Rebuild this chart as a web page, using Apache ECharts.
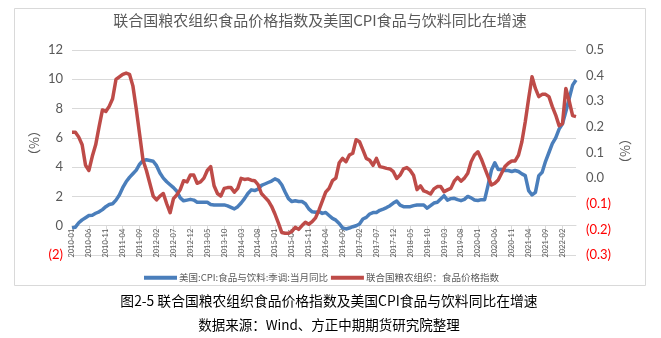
<!DOCTYPE html>
<html>
<head>
<meta charset="utf-8">
<script src="https://cdn.jsdelivr.net/npm/echarts@6/dist/echarts.min.js"></script>
<style>
  html, body { margin: 0; padding: 0; background: #ffffff; }
  #chart { width: 661px; height: 338px; }
</style>
</head>
<body>
<div id="chart"></div>
<script>
// Monthly categories, 2010-01 onward
const startYear = 2010;
const startMonth = 1;
const monthCount = 150;
const months = [];
for (let k = 0; k < monthCount; k++) {
  const y = startYear + Math.floor((startMonth - 1 + k) / 12);
  const m = ((startMonth - 1 + k) % 12) + 1;
  months.push(y + '-' + String(m).padStart(2, '0'));
}

// 美国:CPI:食品与饮料:季调:当月同比 (%), left axis
const usCpiFood = [
  -0.15, -0.1, 0.2, 0.4, 0.55, 0.7, 0.72, 0.85, 0.95, 1.1,
  1.3, 1.45, 1.5, 1.75, 2.1, 2.6, 3.0, 3.3, 3.55, 3.8,
  4.2, 4.45, 4.5, 4.45, 4.4, 4.1, 3.6, 3.25, 3.0, 2.8,
  2.6, 2.35, 1.9, 1.7, 1.75, 1.8, 1.75, 1.6, 1.6, 1.6,
  1.6, 1.45, 1.42, 1.42, 1.42, 1.42, 1.35, 1.25, 1.15, 1.3,
  1.55, 1.85, 2.2, 2.45, 2.4, 2.5, 2.75, 2.85, 2.95, 3.05,
  3.2, 3.1, 2.8, 2.3, 1.85, 1.65, 1.7, 1.65, 1.65, 1.5,
  1.15, 0.95, 0.92, 0.96, 0.84, 0.9, 0.7, 0.5, 0.38, 0.15,
  -0.15, -0.22, -0.16, -0.07, 0.0, 0.12, 0.46, 0.57, 0.8, 0.9,
  0.9, 1.05, 1.14, 1.24, 1.37, 1.55, 1.68, 1.4, 1.3, 1.3,
  1.3, 1.37, 1.42, 1.42, 1.42, 1.2, 1.37, 1.55, 1.6, 1.83,
  2.05, 1.75, 1.85, 1.87, 1.78, 1.71, 1.8, 2.0, 1.9, 1.75,
  1.72, 1.78, 1.78, 2.75, 3.8, 4.3, 3.84, 3.84, 3.77, 3.77,
  3.7, 3.77, 3.7, 3.54, 3.42, 2.4, 2.1, 2.28, 3.42, 3.65,
  4.4, 5.0, 5.6, 6.0, 6.6, 6.96, 7.8, 8.7, 9.6, 9.95
];

// 联合国粮农组织：食品价格指数, year-on-year, right axis
const faoFood = [
  0.179, 0.179, 0.16, 0.13, 0.05, 0.03, 0.085, 0.13, 0.2, 0.266,
  0.26, 0.28, 0.31, 0.385, 0.395, 0.405, 0.41, 0.405, 0.36, 0.27,
  0.17, 0.07, 0.03, -0.02, -0.07, -0.085, -0.07, -0.06, -0.1, -0.135,
  -0.08, -0.065, -0.045, -0.01, -0.015, 0.012, 0.012, -0.02, -0.015, 0.0,
  0.03, 0.045, -0.03, -0.06, -0.07, -0.04, -0.037, -0.037, -0.055, -0.04,
  -0.001, -0.005, -0.003, -0.008, -0.01, -0.025, -0.06, -0.074, -0.088, -0.11,
  -0.14, -0.175, -0.212, -0.215, -0.215, -0.208, -0.192, -0.2, -0.185, -0.172,
  -0.18, -0.17, -0.155, -0.125, -0.09, -0.055, -0.04, -0.01, 0.0, 0.06,
  0.077, 0.064, 0.09, 0.097, 0.15, 0.142, 0.11, 0.077, 0.07, 0.05,
  0.077, 0.045, 0.042, 0.038, 0.036, 0.025, -0.001, 0.012, 0.036, 0.041,
  0.03, 0.01, -0.045, -0.03, -0.05, -0.055, -0.062, -0.042, -0.033, -0.033,
  -0.053, -0.046, -0.04, -0.012, 0.003, -0.012, 0.0, 0.019, 0.064, 0.09,
  0.103, 0.075, 0.04, 0.006, -0.027, -0.02, -0.007, 0.019, 0.045, 0.058,
  0.067, 0.067, 0.09, 0.142, 0.22, 0.311, 0.396, 0.35, 0.318, 0.327,
  0.327, 0.318, 0.279, 0.246, 0.205, 0.212, 0.35, 0.3, 0.244, 0.24
];

const seriesNames = ['美国:CPI:食品与饮料:季调:当月同比', '联合国粮农组织：食品价格指数'];
const titleText = '联合国粮农组织食品价格指数及美国CPI食品与饮料同比在增速';
const captionText = '图2-5 联合国粮农组织食品价格指数及美国CPI食品与饮料同比在增速';
const sourceText = '数据来源：Wind、方正中期期货研究院整理';

const gray = '#595959';
const gridColor = '#d9d9d9';
const negRed = '#ff0000';
const blue = '#4a7ebb';
const red = '#be4b48';
const numFont = "Lato, 'Noto Sans CJK SC', sans-serif";
const cjkFont = "'Noto Sans CJK SC', sans-serif";

// left axis range; the category axis sits on its zero line
const leftMin = -2, leftMax = 12;
const gridTop = 50, gridBottom = 83, chartHeight = 338;
const plotHeight = chartHeight - gridTop - gridBottom;
const zeroOffset = -plotHeight * (0 - leftMin) / (leftMax - leftMin);

const chart = echarts.init(document.getElementById('chart'), null, { renderer: 'canvas' });

chart.setOption({
  animation: false,
  backgroundColor: '#ffffff',
  grid: { left: 72, right: 85, top: gridTop, bottom: gridBottom, containLabel: false },
  legend: {
    left: 139, top: 268,
    icon: 'rect',
    itemWidth: 33, itemHeight: 4, itemGap: 3,
    textStyle: { fontSize: 9.5, color: gray, fontFamily: cjkFont, padding: [0, 0, 0, -3] },
    data: seriesNames
  },
  xAxis: {
    type: 'category',
    data: months,
    boundaryGap: false,
    offset: zeroOffset,
    axisLine: { show: true, onZero: false, lineStyle: { color: gridColor } },
    axisTick: { show: true, interval: 4, length: 27, lineStyle: { color: gridColor } },
    axisLabel: { interval: 4, rotate: 90, fontSize: 7.5, color: gray, margin: 3, fontFamily: numFont },
    splitLine: { show: false }
  },
  yAxis: [
    {
      type: 'value', position: 'left',
      min: leftMin, max: leftMax, interval: 2,
      axisLine: { show: false }, axisTick: { show: false },
      splitLine: { show: true, lineStyle: { color: gridColor, width: 1 } },
      axisLabel: {
        fontSize: 13, margin: 9, fontFamily: numFont,
        formatter: v => (v < 0 ? '(' + Math.abs(v) + ')' : String(v)),
        color: v => (Number(v) < 0 ? negRed : gray)
      }
    },
    {
      type: 'value', position: 'right',
      min: -0.3, max: 0.5, interval: 0.1,
      axisLine: { show: false }, axisTick: { show: false },
      splitLine: { show: false },
      axisLabel: {
        fontSize: 13, margin: 10, fontFamily: numFont,
        formatter: v => (v < -1e-9 ? '(' + Math.abs(v).toFixed(1) + ')' : Math.abs(v).toFixed(1)),
        color: v => (Number(v) < -1e-9 ? negRed : gray)
      }
    }
  ],
  series: [
    {
      name: seriesNames[0], type: 'line', yAxisIndex: 0,
      data: usCpiFood, symbol: 'none', showSymbol: false,
      lineStyle: { color: blue, width: 3.5, join: 'round' },
      itemStyle: { color: blue }
    },
    {
      name: seriesNames[1], type: 'line', yAxisIndex: 1,
      data: faoFood, symbol: 'none', showSymbol: false,
      lineStyle: { color: red, width: 3.5, join: 'round' },
      itemStyle: { color: red }
    }
  ],
  graphic: [
    {
      type: 'rect', silent: true, z: -1,
      shape: { x: 14.5, y: 8.5, width: 631, height: 277 },
      style: { fill: 'none', stroke: gridColor, lineWidth: 1 }
    },
    {
      type: 'text', x: 320, y: 20,
      style: { text: titleText, font: "15px 'Noto Sans CJK SC', sans-serif", fill: gray, textAlign: 'center', textVerticalAlign: 'middle' }
    },
    {
      type: 'text', x: 34, y: 143, rotation: Math.PI / 2,
      style: { text: '（%）', font: "13px 'Noto Sans CJK SC', sans-serif", fill: gray, textAlign: 'center', textVerticalAlign: 'middle' }
    },
    {
      type: 'text', x: 625, y: 151, rotation: Math.PI / 2,
      style: { text: '（%）', font: "13px 'Noto Sans CJK SC', sans-serif", fill: gray, textAlign: 'center', textVerticalAlign: 'middle' }
    },
    {
      type: 'text', x: 329, y: 301,
      style: { text: captionText, font: "13.8px 'Noto Sans CJK SC', sans-serif", fill: '#000000', textAlign: 'center', textVerticalAlign: 'middle' }
    },
    {
      type: 'text', x: 329, y: 325,
      style: { text: sourceText, font: "13.5px 'Noto Sans CJK SC', sans-serif", fill: '#000000', textAlign: 'center', textVerticalAlign: 'middle' }
    }
  ]
});
</script>
</body>
</html>
